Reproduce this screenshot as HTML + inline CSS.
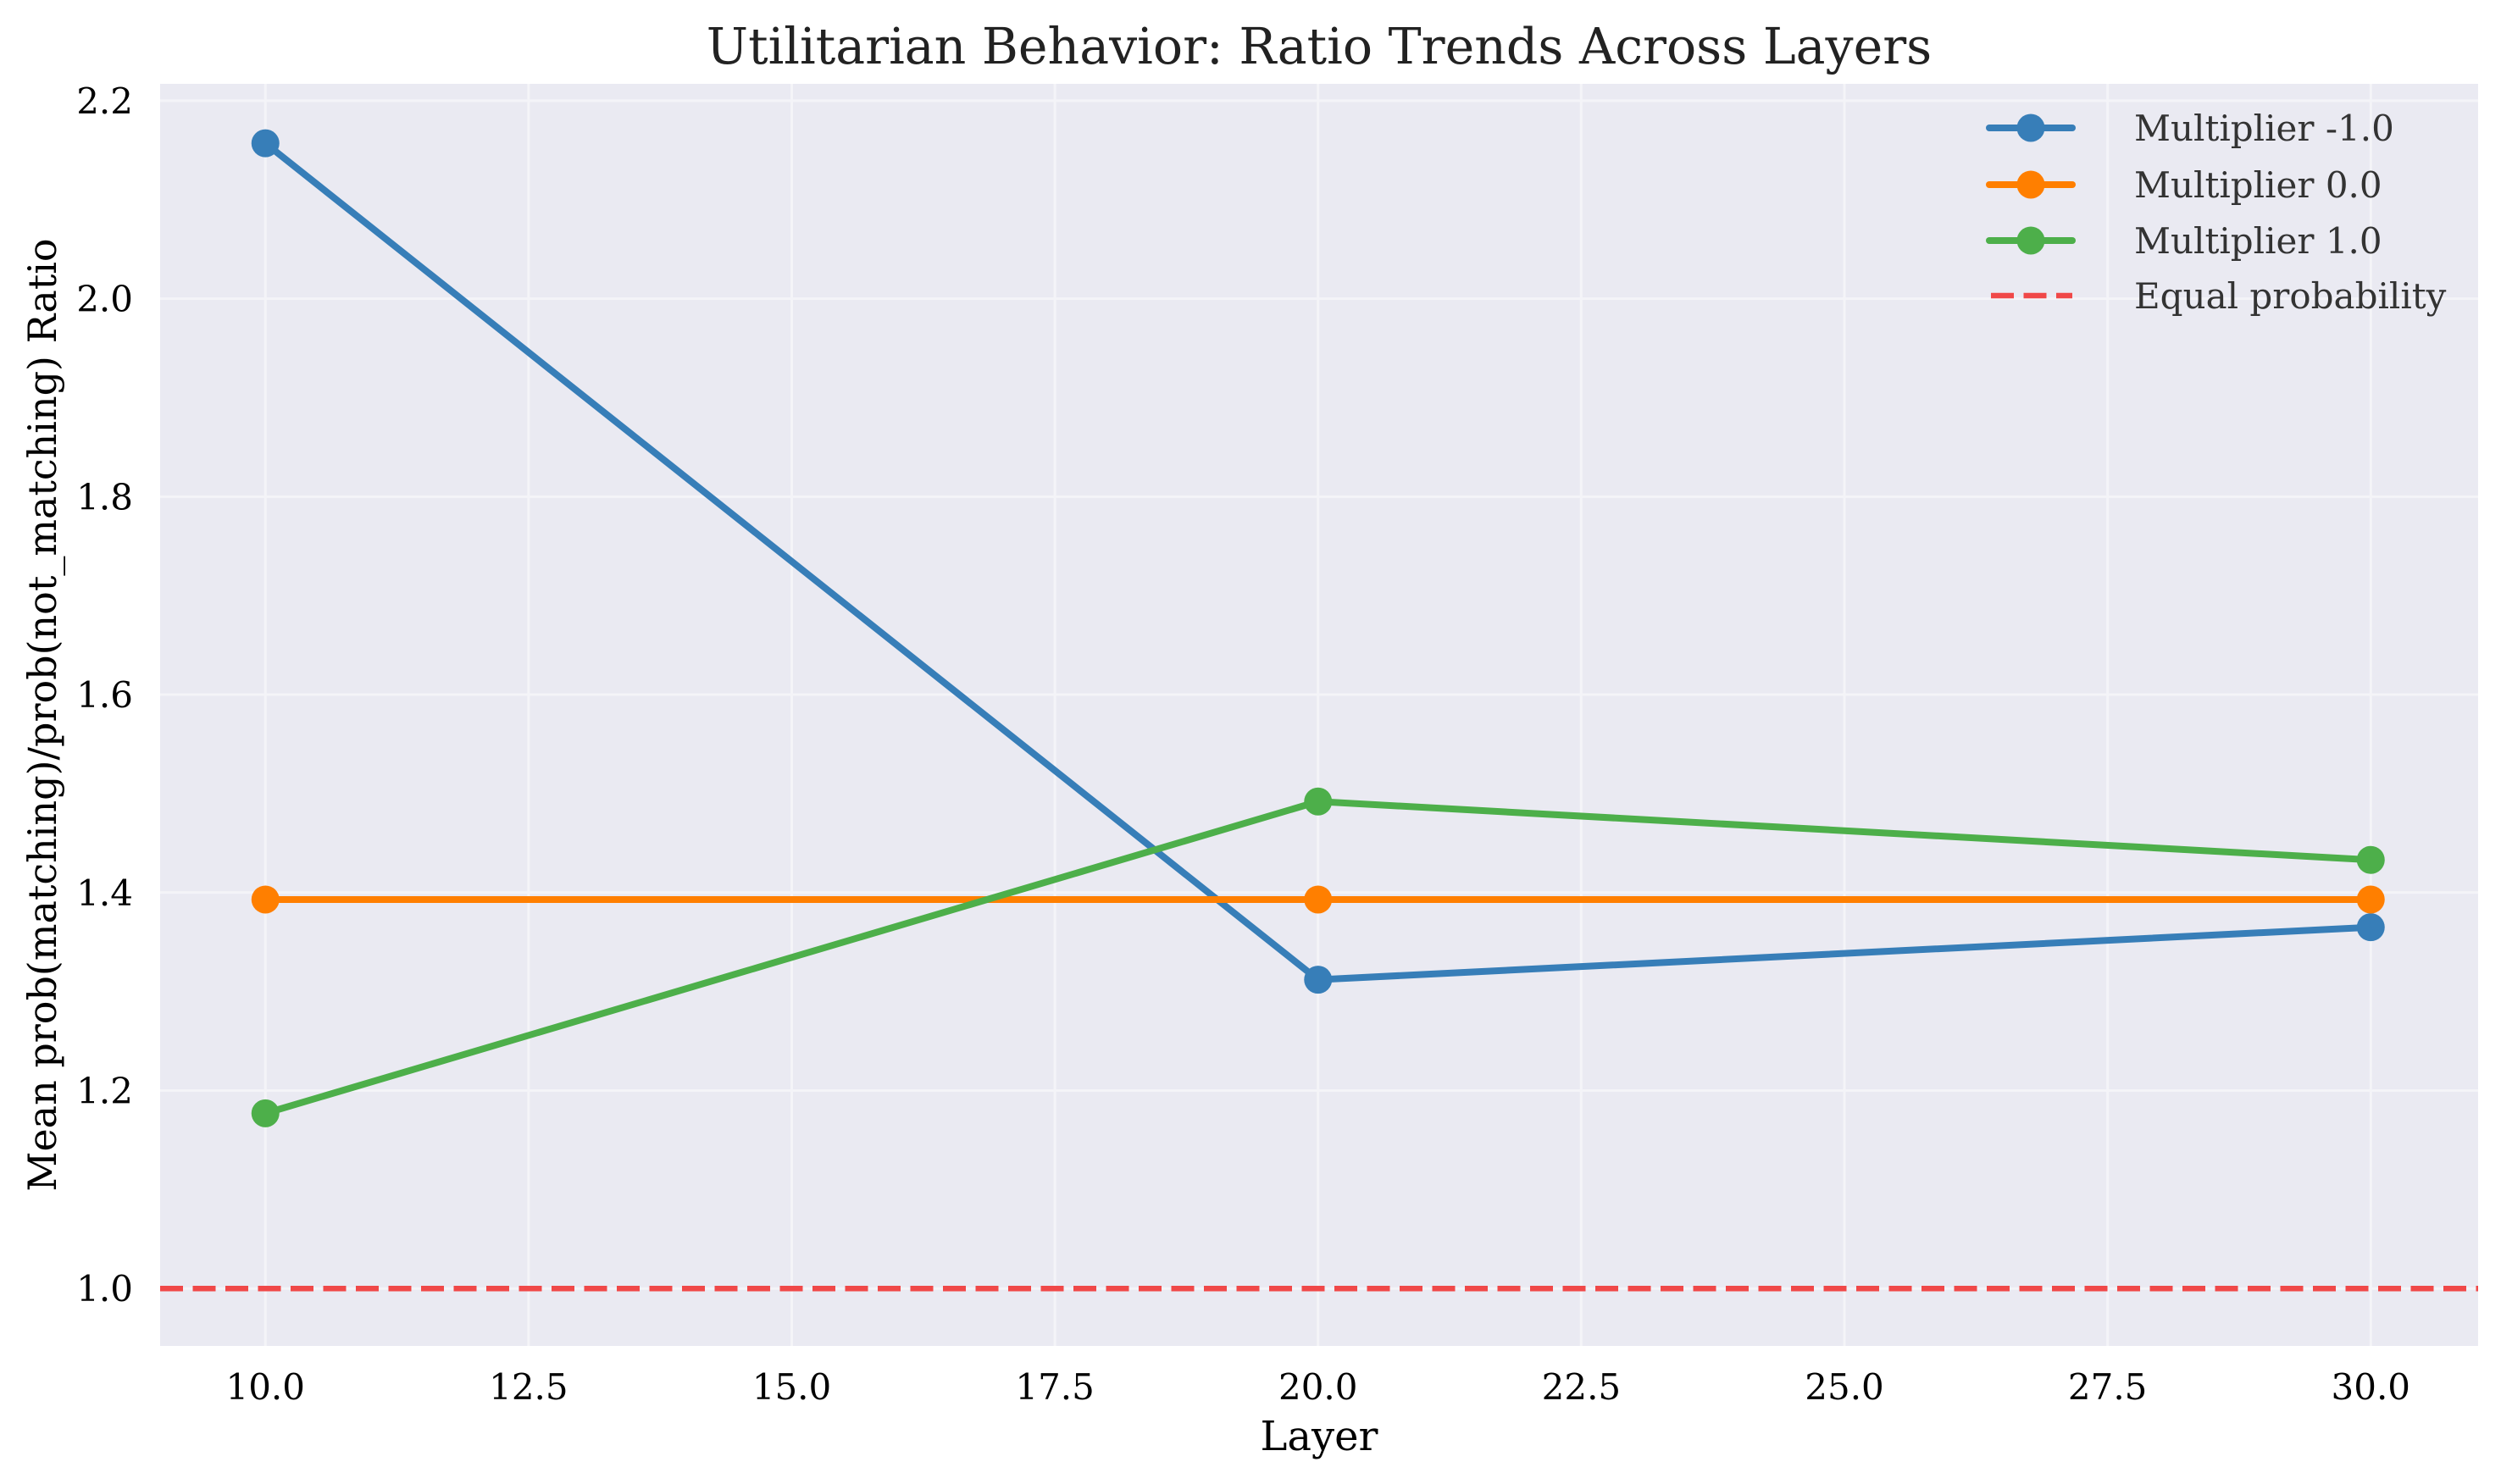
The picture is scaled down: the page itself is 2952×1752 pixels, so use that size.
<!DOCTYPE html>
<html><head><meta charset="utf-8"><style>
html,body{margin:0;padding:0;background:#fff;}
svg{display:block;font-family:"DejaVu Serif","Liberation Serif",serif;}
</style></head><body>
<svg id="chart" width="2952" height="1752" viewBox="0 0 2952 1752" xmlns="http://www.w3.org/2000/svg">
<rect width="2952" height="1752" fill="#fff"/>
</svg>
<script>
const layers = [10, 20, 30];
const seriesNames = ["Multiplier -1.0", "Multiplier 0.0", "Multiplier 1.0"];
const seriesNeg = [2.157, 1.312, 1.365];
const seriesZero = [1.393, 1.393, 1.393];
const seriesPos = [1.177, 1.492, 1.433];
const equalLine = 1.0;
const xTicks = ["10.0","12.5","15.0","17.5","20.0","22.5","25.0","27.5","30.0"];
const yTicks = ["1.0","1.2","1.4","1.6","1.8","2.0","2.2"];

const L=189,R=2925,T=99,B=1589;
const xmin=9.0,xmax=31.02,ymin=0.942,ymax=2.217;
function X(v){return L+(v-xmin)/(xmax-xmin)*(R-L);}
function Y(v){return B-(v-ymin)/(ymax-ymin)*(B-T);}
const NS="http://www.w3.org/2000/svg";
const svg=document.getElementById('chart');
function mk(tag,attrs,parent){const e=document.createElementNS(NS,tag);for(const k in attrs)e.setAttribute(k,attrs[k]);(parent||svg).appendChild(e);return e;}

const bg=mk('rect',{x:L,y:T,width:R-L,height:B-T,fill:'#eaeaf2'});



xTicks.forEach(t=>{const v=parseFloat(t);
 const g=mk('line',{x1:X(v),x2:X(v),y1:T,y2:B,stroke:'#f4f4f8','stroke-width':3});
 
 
 const tx=mk('text',{x:X(v),y:1652,'text-anchor':'middle','font-size':42,fill:'#000'});
 tx.textContent=t;
 
 
});
yTicks.forEach(t=>{const v=parseFloat(t);
 const g=mk('line',{x1:L,x2:R,y1:Y(v),y2:Y(v),stroke:'#f4f4f8','stroke-width':3});
 
 
 const tx=mk('text',{x:157,y:Y(v)+15,'text-anchor':'end','font-size':42,fill:'#000'});
 tx.textContent=t;
 
 
});

const eq=mk('line',{x1:L,x2:R,y1:Y(equalLine),y2:Y(equalLine),stroke:'#f04848','stroke-width':6.5,'stroke-dasharray':'27 11.5'});



const colors=['#377eb8','#ff7f00','#4daf4a'];
const all=[seriesNeg,seriesZero,seriesPos];
all.forEach((s,i)=>{
 const pts=s.map((v,j)=>X(layers[j])+','+Y(v)).join(' ');
 const pl=mk('polyline',{points:pts,fill:'none',stroke:colors[i],'stroke-width':8,'stroke-linejoin':'round'});
 
 
 s.forEach((v,j)=>{
  const c=mk('circle',{cx:X(layers[j]),cy:Y(v),r:16.5,fill:colors[i]});
  
  
 });
});

const legY=[151,218,284,349];
seriesNames.concat(["Equal probability"]).forEach((n,i)=>{
 if(i<3){
  const ln=mk('line',{x1:2348,x2:2446,y1:legY[i],y2:legY[i],stroke:colors[i],'stroke-width':8,'stroke-linecap':'round'});
  
  
  const c=mk('circle',{cx:2397,cy:legY[i],r:16.5,fill:colors[i]});
  
  
 } else {
  const ln=mk('line',{x1:2350,x2:2446,y1:legY[i],y2:legY[i],stroke:'#f04848','stroke-width':6.5,'stroke-dasharray':'27 11.5'});
  
  
 }
 const t=mk('text',{x:2519,y:legY[i]+15,'font-size':42,fill:'#333'});
 t.textContent=n;
 
 
});

const title=mk('text',{x:(L+R)/2,y:75,'text-anchor':'middle','font-size':58.5,fill:'#222'});
title.textContent="Utilitarian Behavior: Ratio Trends Across Layers";


const xl=mk('text',{x:(L+R)/2,y:1712,'text-anchor':'middle','font-size':48,fill:'#000'});
xl.textContent="Layer";


const yl=mk('text',{x:0,y:0,'text-anchor':'middle','font-size':46,fill:'#000',transform:'translate(66,'+((T+B)/2)+') rotate(-90)'});
yl.textContent="Mean prob(matching)/prob(not_matching) Ratio";


</script>
</body></html>
